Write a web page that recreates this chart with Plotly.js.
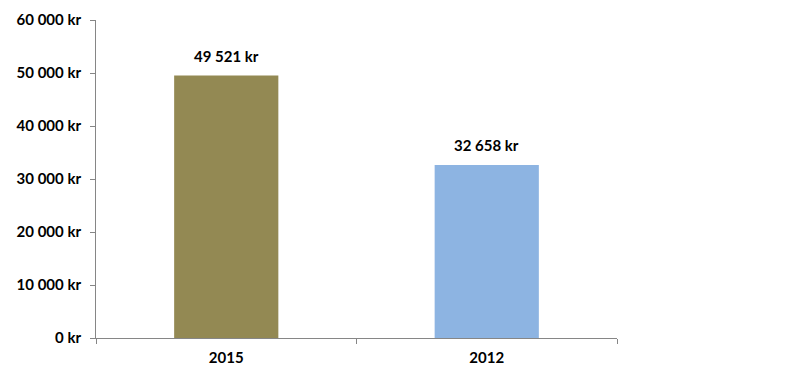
<!DOCTYPE html>
<html><head><meta charset="utf-8">
<script src="https://cdn.plot.ly/plotly-3.0.1.min.js"></script>
<style>html,body{margin:0;padding:0;background:#fff}#c{width:800px;height:381px}</style>
</head><body><div id="c"></div>
<script>
const categories = ["2015", "2012"];
const values = [49521, 32658];
const labels = ["49 521 kr", "32 658 kr"];
const colors = ["#938953", "#8DB4E2"];
const tickVals = [0, 10000, 20000, 30000, 40000, 50000, 60000];
const tickText = ["0 kr", "10 000 kr", "20 000 kr", "30 000 kr", "40 000 kr", "50 000 kr", "60 000 kr"];

const font = {family: "Lato, 'Open Sans', sans-serif", size: 15, color: "#000", weight: 700};

const trace = {
  type: "bar", x: categories, y: values,
  marker: {color: colors, line: {width: 0}},
  width: 0.4, hoverinfo: "none"
};
const annotations = categories.map((c, i) => ({
  x: i, y: values[i], xref: "x", yref: "y", text: "<b>" + labels[i] + "</b>", showarrow: false,
  yanchor: "bottom", yshift: 9, font: font
}));
Plotly.newPlot("c", [trace], {
  width: 800, height: 381,
  margin: {l: 96, r: 183, t: 20, b: 43},
  paper_bgcolor: "#fff", plot_bgcolor: "#fff",
  showlegend: false,
  font: font,
  xaxis: {type: "category", categoryorder: "array", categoryarray: categories,
    range: [-0.5, 1.5], autorange: false, showline: true, linecolor: "#868686", linewidth: 1,
    ticks: "outside", tickson: "boundaries", ticklen: 5, tickcolor: "#868686",
    ticklabelstandoff: 6,
    showgrid: false, zeroline: false, tickfont: font, tickangle: 0, fixedrange: true},
  yaxis: {range: [0, 60000], autorange: false, tickvals: tickVals, ticktext: tickText,
    showline: true, linecolor: "#868686", linewidth: 1,
    ticks: "outside", ticklen: 5, tickcolor: "#868686",
    ticklabelstandoff: 6,
    showgrid: false, zeroline: false, tickfont: font, fixedrange: true},
  annotations: annotations
}, {displayModeBar: false, staticPlot: true});
</script></body></html>
